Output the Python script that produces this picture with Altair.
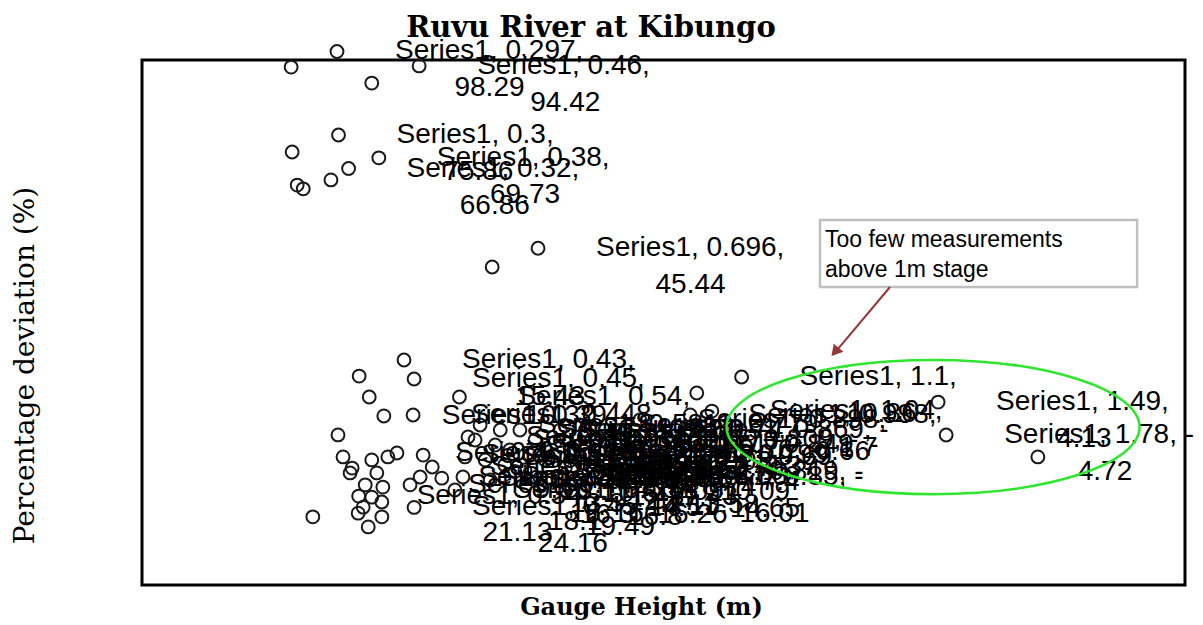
import altair as alt
import pandas as pd

# ---- data ----
gauge_height = [
    0.297, 0.206, 0.366, 0.46, 0.3, 0.208, 0.38, 0.32, 0.285, 0.218, 0.23, 0.696, 0.605,
    0.341, 0.361, 0.299, 0.309, 0.323, 0.398, 0.376, 0.388, 0.366, 0.386, 0.349, 0.386, 0.359, 0.249, 0.339, 0.327, 0.366, 0.353,
    0.43, 0.45, 0.54, 0.39, 0.448, 0.557, 0.416, 0.468, 0.486, 0.551, 0.547, 0.442, 0.462, 0.505, 0.45, 0.34,
    0.581, 0.611, 0.63, 0.66, 0.68, 0.70, 0.73, 0.75, 0.779, 0.799, 0.819, 0.849, 0.898, 0.85, 0.998,
    0.571, 0.591, 0.601, 0.621, 0.64, 0.65, 0.67, 0.69, 0.71, 0.74, 0.76, 0.809, 0.869, 0.531,
    1.011, 1.041, 1.1, 1.49, 1.506, 1.688,
]
deviation = [
    98.29, 94.1, 89.8, 94.42, 75.86, 71.3, 69.73, 66.86, 63.8, 62.4, 61.4, 45.44, 40.4,
    11.1, 5.5, -4.7, -10.6, -14.9, -10.6, -14.9, -18.7, -21.4, -22.7, -24.1, -26.7, -29.4, -26.7, -25.7, -13.6, -11.4, -18.1,
    15.43, 10.32, 5.49, 0.4, 0.65, -5.25, -9.55, -10.1, -13.3, -10.6, -16.0, -18.1, -16.0, -16.3, -24.16, -21.13,
    -2.03, -7.4, -12.77, -3.37, -10.09, -16.26, -6.6, -13.58, -2.03, -10.09, -14.65, -7.4, -0.69, -16.01, 0.66,
    -6.06, -11.43, -16.8, -3.37, -8.74, -14.5, -14.11, -6.06, -11.43, -3.37, -8.74, -6.06, -3.37, -19.49,
    6.56, 1.7, 10.86, 4.13, -4.72, -10.6,
]
point_labels = (
    ["Series1, 0.297,|98.29", "", "", "Series1, 0.46,|94.42", "Series1, 0.3,|75.86", "",
     "Series1, 0.38,|69.73", "Series1, 0.32,|66.86", "", "", "", "Series1, 0.696,|45.44", ""]
    + [""] * 18
    + ["Series1, 0.43,|15.43", "Series1, 0.45,|10.32", "Series1, 0.54,|5.49", "Series1, 0.39,|0.4",
       "Series1, 0.448,|0.65", "Series1, 0.557, -|5.25", "Series1, 0.416, -|9.55", "Series1, 0.468, -|10.1",
       "Series1, 0.486, -|13.3", "Series1, 0.551, -|10.6", "Series1, 0.547, -|16", "Series1, 0.442, -|18.1",
       "Series1, 0.462, -|16", "Series1, 0.505, -|16.3", "Series1, 0.45, -|24.16", "Series1, 0.34, -|21.13"]
    + ["Series1, 0.581, -|2.03", "Series1, 0.611, -|7.4", "Series1, 0.63, -|12.77", "Series1, 0.66, -|3.37",
       "Series1, 0.68, -|10.09", "Series1, 0.7, -|16.26", "Series1, 0.73, -|6.6", "Series1, 0.75, -|13.58",
       "Series1, 0.779, -|2.03", "Series1, 0.799, -|10.09", "Series1, 0.819, -|14.65", "Series1, 0.849, -|7.4",
       "Series1, 0.898, -|0.69", "Series1, 0.85, -|16.01", "Series1, 0.998,|0.66"]
    + ["Series1, 0.571, -|6.06", "Series1, 0.591, -|11.43", "Series1, 0.601, -|16.8", "Series1, 0.621, -|3.37",
       "Series1, 0.64, -|8.74", "Series1, 0.65, -|14.5", "Series1, 0.67, -|14.11", "Series1, 0.69, -|6.06",
       "Series1, 0.71, -|11.43", "Series1, 0.74, -|3.37", "Series1, 0.76, -|8.74",
       "Series1, 0.809, -|6.06", "Series1, 0.869, -|3.37", "Series1, 0.531, -|19.49"]
    + ["", "Series1, 1.04,|1.7", "Series1, 1.1,|10.86", "Series1, 1.49,|4.13", "Series1, 1.78, -|4.72", ""]
)
assert len(gauge_height) == len(deviation) == len(point_labels)

chart_title = "Ruvu River at Kibungo"
note_lines = ["Too few measurements", "above  1m stage"]

X_DOMAIN = [-0.09, 1.98]
Y_DOMAIN = [-45, 96]
PX_PER_UNIT = 1043 / (X_DOMAIN[1] - X_DOMAIN[0])

df = pd.DataFrame({"gx": gauge_height, "dev": deviation, "lab": point_labels})

xs = alt.Scale(domain=X_DOMAIN, nice=False, zero=False)
ys = alt.Scale(domain=Y_DOMAIN, nice=False, zero=False)

x_enc = alt.X("gx:Q", scale=xs, axis=alt.Axis(
    title="Gauge Height (m)", labels=False, ticks=False, domain=False, grid=False,
    titleFont="DejaVu Serif", titleFontSize=24, titleFontWeight="bold", titleColor="black",
    titleX=499, titleY=22, titleAlign="center", titleBaseline="middle"))
y_enc = alt.Y("dev:Q", scale=ys, axis=alt.Axis(
    title="Percentage deviation (%)", labels=False, ticks=False, domain=False, grid=False,
    titleFont="DejaVu Serif", titleFontSize=28, titleFontWeight="normal", titleColor="black",
    titleX=-117, titleY=305, titleAlign="center", titleBaseline="middle", titleAngle=-90))

base = alt.Chart(df)

points = base.mark_point(shape="circle", filled=False, size=165, strokeWidth=2,
                         color="#1a1a1a", opacity=1).encode(x=x_enc, y=y_enc)

lab_base = base.transform_filter("datum.lab != ''").transform_calculate(
    l1="split(datum.lab, '|')[0]",
    l2="split(datum.lab, '|')[1]",
).transform_calculate(
    cx2=f"datum.gx + (58 + length(datum.l1) * 6.3) / {PX_PER_UNIT}"
)

text1 = lab_base.mark_text(align="left", baseline="middle", dx=58, font="Liberation Sans",
                           fontSize=28, color="black").encode(
    x=alt.X("gx:Q", scale=xs), y=alt.Y("dev:Q", scale=ys), text="l1:N")
text2 = lab_base.mark_text(align="center", baseline="middle", dy=37, font="Liberation Sans",
                           fontSize=28, color="black").encode(
    x=alt.X("cx2:Q", scale=xs), y=alt.Y("dev:Q", scale=ys), text="l2:N")

# chart title as a text mark above the plot frame
title_df = pd.DataFrame({"gx": [0.801], "dev": [104.6], "t": [chart_title]})
title = alt.Chart(title_df).mark_text(align="center", baseline="middle", font="DejaVu Serif",
                                      fontSize=29, fontWeight="bold", color="black").encode(
    x=alt.X("gx:Q", scale=xs), y=alt.Y("dev:Q", scale=ys), text="t:N")

# green ellipse around the high-stage points
ell_df = pd.DataFrame({"gx": [1.48], "dev": [-2.57]})
ellipse_path = ("M-1,0C-1,-0.1795,-0.5523,-0.325,0,-0.325C0.5523,-0.325,1,-0.1795,1,0"
                "C1,0.1795,0.5523,0.325,0,0.325C-0.5523,0.325,-1,0.1795,-1,0Z")
ellipse = alt.Chart(ell_df).mark_point(shape=ellipse_path, filled=False, size=413 * 413,
                                       stroke="#2ee62e", strokeWidth=2.5, opacity=1).encode(
    x=alt.X("gx:Q", scale=xs), y=alt.Y("dev:Q", scale=ys))

# annotation box
box_df = pd.DataFrame({"x1": [1.2556], "x2": [1.885], "y1": [53.03], "y2": [35.03]})
box = alt.Chart(box_df).mark_rect(fill="white", fillOpacity=0, stroke="#bfbfbf", strokeWidth=2.5).encode(
    x=alt.X("x1:Q", scale=xs), x2="x2:Q", y=alt.Y("y1:Q", scale=ys), y2="y2:Q")

note_df = pd.DataFrame({"gx": [1.2655, 1.2655], "dev": [47.66, 39.6], "t": note_lines})
note = alt.Chart(note_df).mark_text(align="left", baseline="middle", font="Liberation Sans",
                                    fontSize=23, color="black").encode(
    x=alt.X("gx:Q", scale=xs), y=alt.Y("dev:Q", scale=ys), text="t:N")

arrow_df = pd.DataFrame({"x1": [1.3946], "y1": [35.03], "x2": [1.2814], "y2": [16.8]})
arrow_line = alt.Chart(arrow_df).mark_rule(color="#953735", strokeWidth=2).encode(
    x=alt.X("x1:Q", scale=xs), y=alt.Y("y1:Q", scale=ys), x2="x2:Q", y2="y2:Q")
head_df = pd.DataFrame({"gx": [1.2854], "dev": [17.6]})
arrow_head = alt.Chart(head_df).mark_point(shape="triangle-down", filled=True, size=160, angle=40,
                                           color="#953735", opacity=1).encode(
    x=alt.X("gx:Q", scale=xs), y=alt.Y("dev:Q", scale=ys))

chart = alt.layer(points, text1, text2, title, ellipse, box, note, arrow_line, arrow_head).properties(
    width=1043, height=525,
    autosize=alt.AutoSizeParams(type="none"),
    padding={"left": 134, "top": 52, "right": 10, "bottom": 38},
).configure_view(stroke="black", strokeWidth=3)

chart.save("out.html", embed_options={"renderer": "svg", "actions": False})
